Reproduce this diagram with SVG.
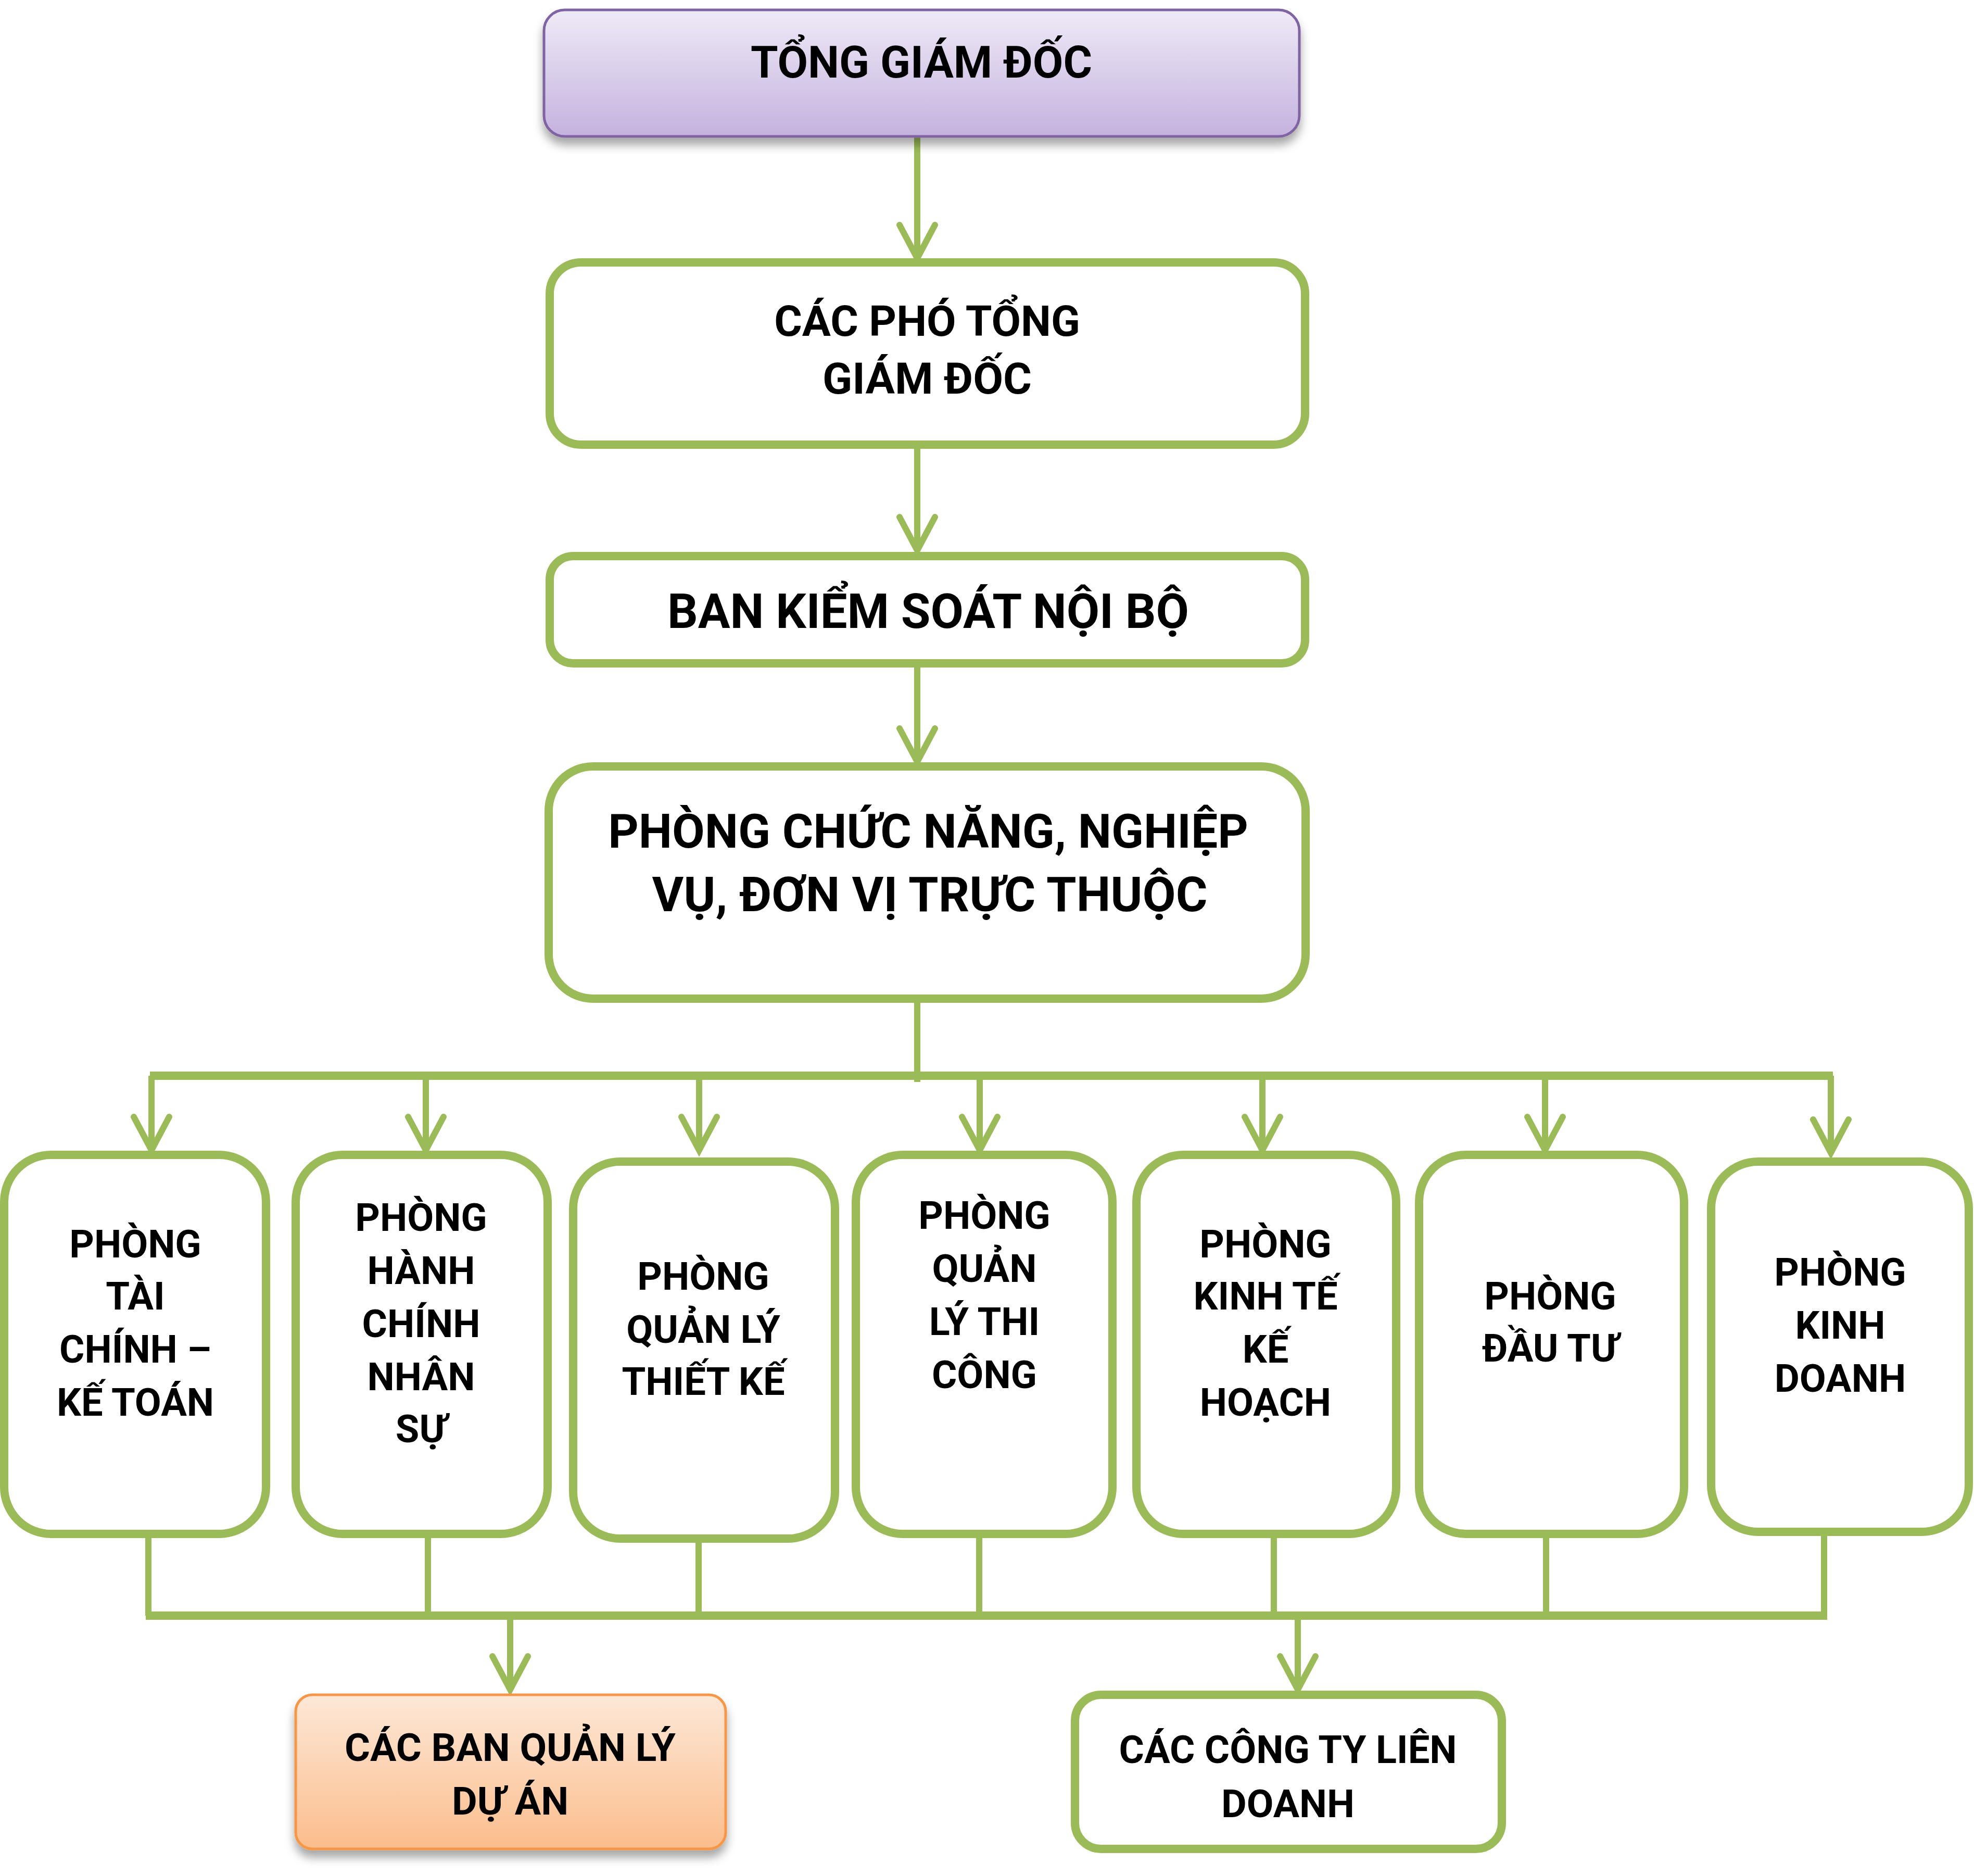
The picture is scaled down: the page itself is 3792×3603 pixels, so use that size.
<svg xmlns="http://www.w3.org/2000/svg" width="3792" height="3603" viewBox="0 0 3792 3603">
<style>
.g{fill:#fff;stroke:#9BBB59;stroke-width:16}
.t{font-family:"Roboto","Liberation Sans",sans-serif;font-weight:700;fill:#000;text-anchor:middle}
.r{font-size:74px}
.c{fill:none;stroke:#9BBB59;stroke-width:12}
.bus{fill:none;stroke:#9BBB59;stroke-width:16}
.a{marker-end:url(#ah)}
</style>
<defs>
<linearGradient id="pg" x1="0" y1="0" x2="0" y2="1"><stop offset="0" stop-color="#EFEAF7"/><stop offset="1" stop-color="#C4B2DE"/></linearGradient>
<linearGradient id="og" x1="0" y1="0" x2="0" y2="1"><stop offset="0" stop-color="#FDE8D7"/><stop offset="1" stop-color="#FBBD8C"/></linearGradient>
<filter id="sh" x="-10%" y="-10%" width="120%" height="140%"><feDropShadow dx="0" dy="14" stdDeviation="9" flood-color="#000" flood-opacity="0.35"/></filter>
<marker id="ah" markerUnits="userSpaceOnUse" markerWidth="100" markerHeight="100" refX="-6" refY="0" orient="auto" overflow="visible"><path d="M-64,-34 L0,0 L-64,34" fill="none" stroke="#9BBB59" stroke-width="12" stroke-linecap="round" stroke-linejoin="miter"/></marker>
</defs>
<g id="connectors">
<line class="c a" x1="1762" y1="262" x2="1762" y2="490"/>
<line class="c a" x1="1762" y1="862" x2="1762" y2="1051"/>
<line class="c a" x1="1762" y1="1282" x2="1762" y2="1457"/>
<line class="c" x1="1762" y1="1926" x2="1762" y2="2078"/>
<line class="bus" x1="288" y1="2066" x2="3521" y2="2066"/>
<line class="c a" x1="291" y1="2066" x2="291" y2="2203"/>
<line class="c a" x1="818" y1="2066" x2="818" y2="2203"/>
<line class="c a" x1="1343" y1="2066" x2="1343" y2="2203"/>
<line class="c a" x1="1882" y1="2066" x2="1882" y2="2203"/>
<line class="c a" x1="2425" y1="2066" x2="2425" y2="2203"/>
<line class="c a" x1="2968" y1="2066" x2="2968" y2="2203"/>
<line class="c a" x1="3517" y1="2066" x2="3517" y2="2208"/>
<line class="c" x1="285" y1="2950" x2="285" y2="3103"/>
<line class="c" x1="822" y1="2950" x2="822" y2="3103"/>
<line class="c" x1="1342" y1="2945" x2="1342" y2="3103"/>
<line class="c" x1="1881" y1="2950" x2="1881" y2="3103"/>
<line class="c" x1="2447" y1="2950" x2="2447" y2="3103"/>
<line class="c" x1="2970" y1="2950" x2="2970" y2="3103"/>
<line class="c" x1="3504" y1="2946" x2="3504" y2="3103"/>
<line class="bus" x1="280" y1="3103" x2="3510" y2="3103"/>
<line class="c a" x1="980" y1="3103" x2="980" y2="3239"/>
<line class="c a" x1="2493" y1="3103" x2="2493" y2="3239"/>
</g>
<g id="tong-giam-doc">
<rect x="1045" y="19" width="1451" height="243" rx="40" fill="url(#pg)" stroke="#8064A2" stroke-width="5" filter="url(#sh)"/>
<text class="t" x="1770" y="149" font-size="85">TỔNG GIÁM ĐỐC</text>
</g>
<g id="pho-tong-giam-doc">
<rect class="g" x="1056" y="504" width="1451" height="350" rx="60"/>
<text class="t" x="1781" y="645" font-size="82">CÁC PHÓ TỔNG</text>
<text class="t" x="1781" y="756" font-size="84">GIÁM ĐỐC</text>
</g>
<g id="ban-kiem-soat">
<rect class="g" x="1056" y="1068" width="1451" height="206" rx="45"/>
<text class="t" x="1783" y="1206" font-size="92">BAN KIỂM SOÁT NỘI BỘ</text>
</g>
<g id="phong-chuc-nang">
<rect class="g" x="1054" y="1472" width="1454" height="446" rx="85"/>
<text class="t" x="1783" y="1628" font-size="91">PHÒNG CHỨC NĂNG, NGHIỆP</text>
<text class="t" x="1786" y="1750" font-size="93">VỤ, ĐƠN VỊ TRỰC THUỘC</text>
</g>
<g id="phong-tai-chinh">
<rect class="g" x="8" y="2218" width="503" height="728" rx="90"/>
<text class="t r" x="260" y="2415">PHÒNG</text>
<text class="t r" x="260" y="2515">TÀI</text>
<text class="t r" x="260" y="2617">CHÍNH –</text>
<text class="t r" x="260" y="2719">KẾ TOÁN</text>
</g>
<g id="phong-hanh-chinh">
<rect class="g" x="568" y="2218" width="484" height="728" rx="90"/>
<text class="t r" x="809" y="2364">PHÒNG</text>
<text class="t r" x="809" y="2466">HÀNH</text>
<text class="t r" x="809" y="2568">CHÍNH</text>
<text class="t r" x="809" y="2670">NHÂN</text>
<text class="t r" x="809" y="2770">SỰ</text>
</g>
<g id="phong-thiet-ke">
<rect class="g" x="1101" y="2231" width="503" height="724" rx="90"/>
<text class="t r" x="1351" y="2477">PHÒNG</text>
<text class="t r" x="1351" y="2579">QUẢN LÝ</text>
<text class="t r" x="1351" y="2679">THIẾT KẾ</text>
</g>
<g id="phong-thi-cong">
<rect class="g" x="1644" y="2218" width="493" height="728" rx="90"/>
<text class="t r" x="1891" y="2360">PHÒNG</text>
<text class="t r" x="1891" y="2462">QUẢN</text>
<text class="t r" x="1891" y="2564">LÝ THI</text>
<text class="t r" x="1891" y="2666">CÔNG</text>
</g>
<g id="phong-kinh-te">
<rect class="g" x="2183" y="2218" width="499" height="728" rx="90"/>
<text class="t r" x="2431" y="2415">PHÒNG</text>
<text class="t r" x="2431" y="2515">KINH TẾ</text>
<text class="t r" x="2431" y="2617">KẾ</text>
<text class="t r" x="2431" y="2719">HOẠCH</text>
</g>
<g id="phong-dau-tu">
<rect class="g" x="2726" y="2218" width="509" height="728" rx="90"/>
<text class="t r" x="2978" y="2515">PHÒNG</text>
<text class="t r" x="2978" y="2615">ĐẦU TƯ</text>
</g>
<g id="phong-kinh-doanh">
<rect class="g" x="3287" y="2231" width="495" height="711" rx="90"/>
<text class="t r" x="3535" y="2469">PHÒNG</text>
<text class="t r" x="3535" y="2571">KINH</text>
<text class="t r" x="3535" y="2673">DOANH</text>
</g>
<g id="ban-quan-ly-du-an">
<rect x="568" y="3255" width="826" height="296" rx="32" fill="url(#og)" stroke="#F79646" stroke-width="5" filter="url(#sh)"/>
<text class="t" x="980" y="3382" font-size="75">CÁC BAN QUẢN LÝ</text>
<text class="t" x="980" y="3485" font-size="75">DỰ ÁN</text>
</g>
<g id="cong-ty-lien-doanh">
<rect class="g" x="2065" y="3255" width="820" height="296" rx="50"/>
<text class="t" x="2474" y="3386" font-size="74">CÁC CÔNG TY LIÊN</text>
<text class="t" x="2474" y="3490" font-size="75">DOANH</text>
</g>
</svg>
